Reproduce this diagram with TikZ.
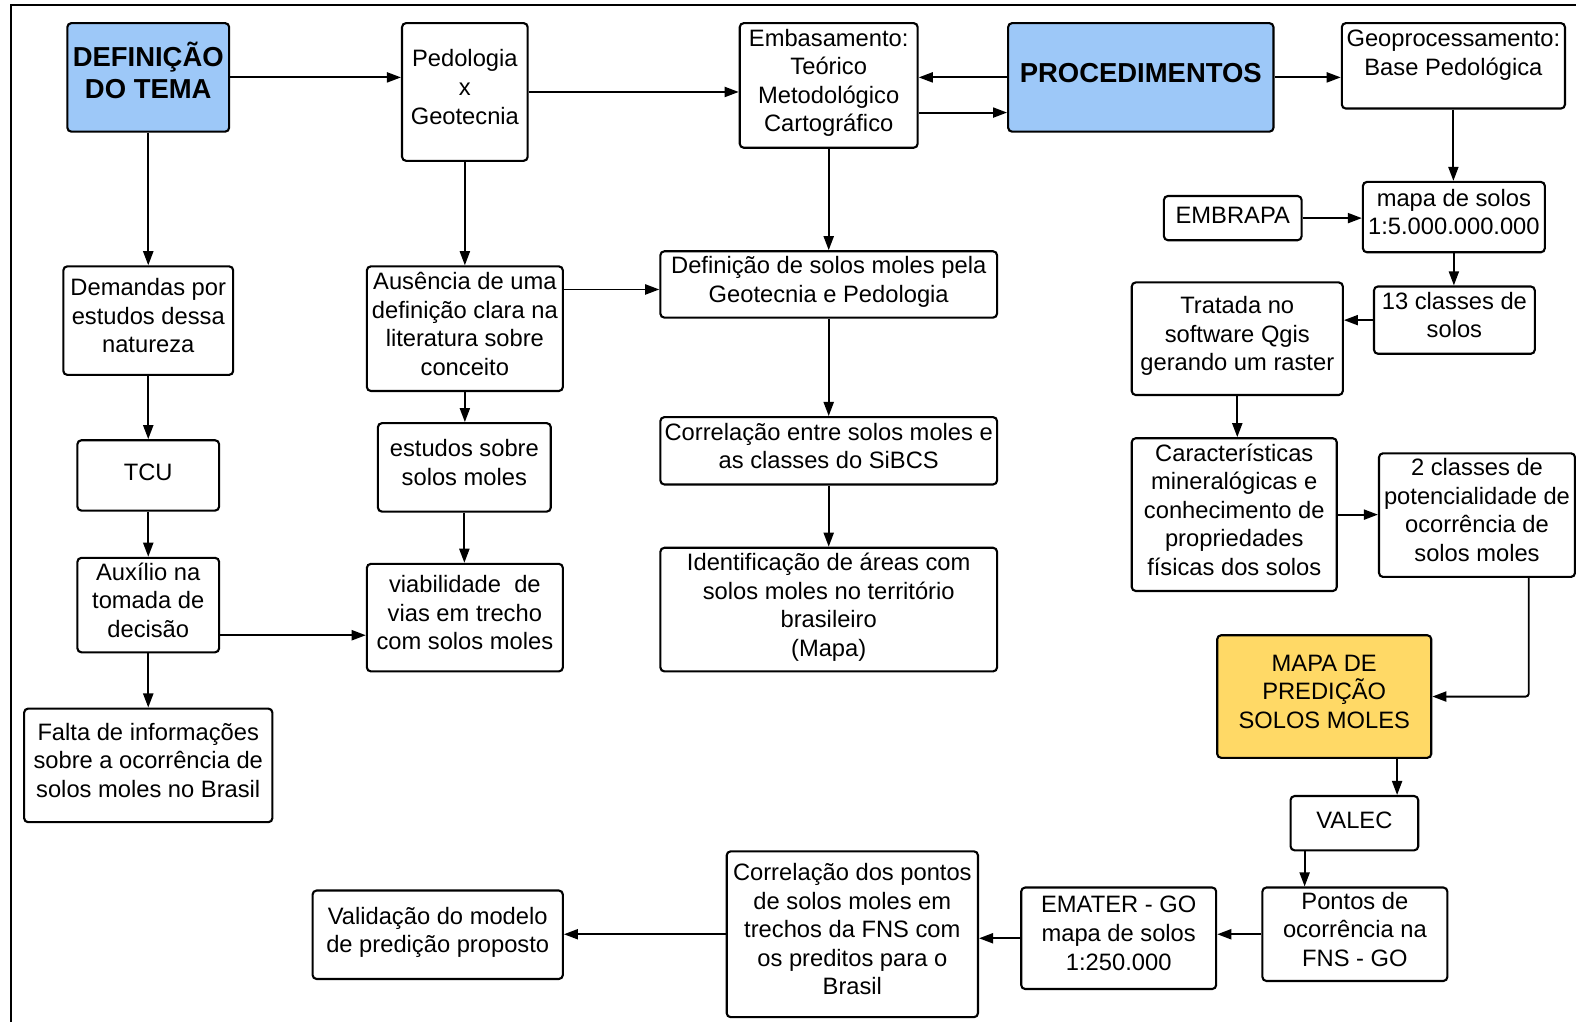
\documentclass[tikz,border=0pt]{standalone}
\usepackage{fontspec}
\setmainfont{Liberation Sans}
\usetikzlibrary{arrows.meta}
\definecolor{blu}{RGB}{157,200,248}
\definecolor{gold}{RGB}{255,217,102}
\newcommand\mytop{\rule{0pt}{21pt}}
\newcommand\mybot{\rule[-10pt]{0pt}{10pt}}
\newcommand\mybigtop{\rule{0pt}{25pt}}
\newcommand\mybigbot{\rule[-14pt]{0pt}{14pt}}
\begin{document}
\begin{tikzpicture}[x=1pt,y=-1pt,
  box/.style={draw, rounded corners=4pt, line width=2.1pt, fill=white, align=center, inner sep=1pt,
    font=\fontsize{23.6}{28.4}\selectfont,
    execute at begin node=\mytop, execute at end node=\mybot},
  bigbox/.style={box, fill=blu, font=\fontsize{27.3}{32}\selectfont\bfseries,
    execute at begin node=\mybigtop, execute at end node=\mybigbot},
  goldbox/.style={box, fill=gold},
  arr/.style={line width=1.9pt, -{Triangle[length=14pt,width=10pt]}}
]
\useasboundingbox (0,0) rectangle (1568,1017);
\draw[line width=2.6pt] (11,1017) -- (11,5) -- (1568,5);

% row 1
\node[bigbox, minimum width=161pt, minimum height=108pt] (def) at (147.5,77) {DEFINIÇÃO\\DO TEMA};
\node[box, minimum width=125pt, minimum height=137pt] (ped) at (462.5,91.5) {Pedologia\\x\\Geotecnia};
\node[box, minimum width=177pt, minimum height=124pt] (emb) at (824.5,85) {Embasamento:\\Teórico\\Metodológico\\Cartográfico};
\node[bigbox, minimum width=264pt, minimum height=108pt] (proc) at (1135,77) {PROCEDIMENTOS};
\node[box, minimum width=222pt, minimum height=85pt, execute at end node={\rule[-26pt]{0pt}{26pt}}] (geo) at (1446,65.5) {Geoprocessamento:\\Base Pedológica};

% row 2
\node[box, minimum width=169pt, minimum height=108pt] (dem) at (147.5,319) {Demandas por\\estudos dessa\\natureza};
\node[box, minimum width=195pt, minimum height=124pt] (aus) at (462.5,327) {Ausência de uma\\definição clara na\\literatura sobre\\conceito};
\node[box, minimum width=335pt, minimum height=66pt] (defsm) at (824.5,283) {Definição de solos moles pela\\Geotecnia e Pedologia};
\node[box, minimum width=137pt, minimum height=44pt] (embr) at (1226.5,217) {EMBRAPA};
\node[box, minimum width=181pt, minimum height=70pt] (mapa5) at (1446.5,216) {mapa de solos\\1:5.000.000.000};
\node[box, minimum width=160pt, minimum height=67pt] (cl13) at (1447,318.5) {13 classes de\\solos};
\node[box, minimum width=210pt, minimum height=112pt] (trat) at (1231,337) {Tratada no\\software Qgis\\gerando um raster};

% row 3
\node[box, minimum width=141pt, minimum height=70pt] (tcu) at (147.5,473) {TCU};
\node[box, minimum width=172pt, minimum height=88pt] (est) at (462,465) {estudos sobre\\solos moles};
\node[box, minimum width=335pt, minimum height=67pt] (corr) at (824.5,448.5) {Correlação entre solos moles e\\as classes do SiBCS};
\node[box, minimum width=204pt, minimum height=152pt] (car) at (1228,512) {Características\\mineralógicas e\\conhecimento de\\propriedades\\físicas dos solos};
\node[box, minimum width=195pt, minimum height=123pt] (cl2) at (1469.5,512.5) {2 classes de\\potencialidade de\\ocorrência de\\solos moles};

% row 4
\node[box, minimum width=141pt, minimum height=94pt] (aux) at (147.5,602) {Auxílio na\\tomada de\\decisão};
\node[box, minimum width=195pt, minimum height=107pt] (via) at (462.5,614.5) {viabilidade\ \ de\\vias em trecho\\com solos moles};
\node[box, minimum width=335pt, minimum height=123pt] (iden) at (824.5,606.5) {Identificação de áreas com\\solos moles no território\\brasileiro\\(Mapa)};
\node[goldbox, minimum width=213pt, minimum height=122pt] (mapp) at (1317.5,693) {MAPA DE\\PREDIÇÃO\\SOLOS MOLES};
\node[box, minimum width=247pt, minimum height=113pt] (falta) at (147.5,761.5) {Falta de informações\\sobre a ocorrência de\\solos moles no Brasil};

% row 5
\node[box, minimum width=127pt, minimum height=54pt] (valec) at (1347.5,819) {VALEC};
\node[box, minimum width=184pt, minimum height=93pt] (pont) at (1348,929.5) {Pontos de\\ocorrência na\\FNS - GO};
\node[box, minimum width=194pt, minimum height=101pt] (emat) at (1113,933.5) {EMATER - GO\\mapa de solos\\1:250.000};
\node[box, minimum width=250pt, minimum height=165pt] (corp) at (848,929.5) {Correlação dos pontos\\de solos moles em\\trechos da FNS com\\os preditos para o\\Brasil};
\node[box, minimum width=249pt, minimum height=88pt] (valid) at (435.5,930) {Validação do modelo\\de predição proposto};

\coordinate (y112) at (0,112);
\coordinate (y288) at (0,288);
\coordinate (y632) at (0,632);

% connectors
\draw[arr] (def.east) -- (def.east -| ped.west);
\draw[arr] (ped.east) -- (ped.east -| emb.west);
\draw[arr] (proc.west) -- (proc.west -| emb.east);
\draw[arr] (emb.east |- y112) -- (proc.west |- y112);
\draw[arr] (proc.east) -- (proc.east -| geo.west);
\draw[arr] (def.south) -- (dem.north);
\draw[arr] (ped.south) -- (ped.south |- aus.north);
\draw[arr] (emb.south) -- (emb.south |- defsm.north);
\draw[arr] (geo.south) -- (geo.south |- mapa5.north);
\draw[arr] (embr.east) -- (embr.east -| mapa5.west);
\draw[arr] (aus.east |- y288) -- (defsm.west |- y288);
\draw[arr] (mapa5.south) -- (mapa5.south |- cl13.north);
\draw[arr] (cl13.west) -- (cl13.west -| trat.east);
\draw[arr] (trat.south) -- (trat.south |- car.north);
\draw[arr] (dem.south) -- (dem.south |- tcu.north);
\draw[arr] (tcu.south) -- (tcu.south |- aux.north);
\draw[arr] (aux.south) -- (aux.south |- falta.north);
\draw[arr] (aus.south) -- (aus.south |- est.north);
\draw[arr] (est.south) -- (est.south |- via.north);
\draw[arr] (aux.east |- y632) -- (via.west |- y632);
\draw[arr] (defsm.south) -- (defsm.south |- corr.north);
\draw[arr] (corr.south) -- (corr.south |- iden.north);
\draw[arr] (car.east) -- (car.east -| cl2.west);
\draw[arr, rounded corners=3pt] ([xshift=51.5pt]cl2.south) |- (mapp.east);
\draw[arr] ([xshift=72.5pt]mapp.south) -- ([xshift=72.5pt]mapp.south |- valec.north);
\draw[arr] ([xshift=-49.5pt]valec.south) -- ([xshift=-49.5pt]valec.south |- pont.north);
\draw[arr] (pont.west) -- (pont.west -| emat.east);
\draw[arr] (emat.west) -- (emat.west -| corp.east);
\draw[arr] (corp.west) -- (corp.west -| valid.east);
\end{tikzpicture}
\end{document}
